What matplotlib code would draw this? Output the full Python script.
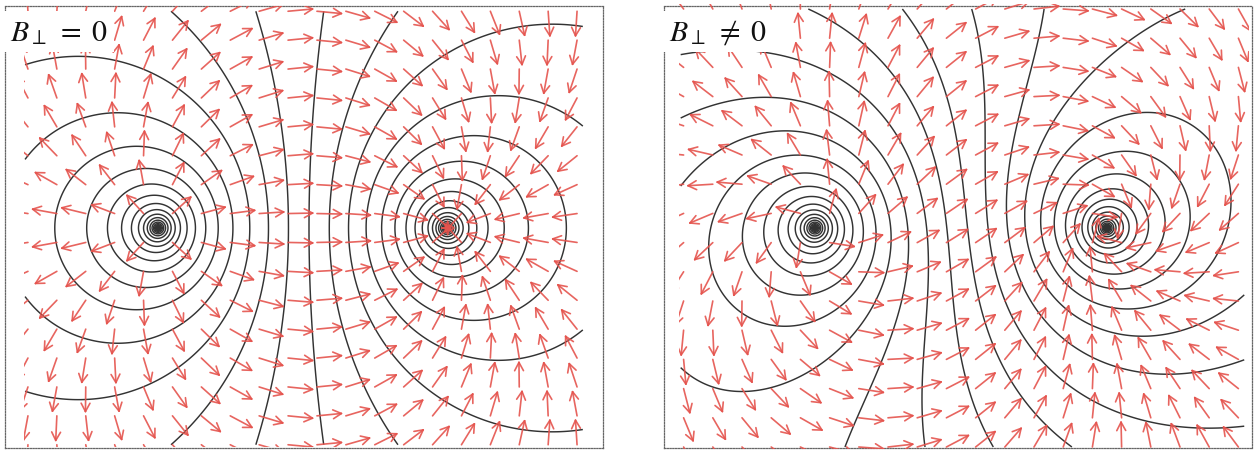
import numpy as np
import matplotlib.pyplot as plt
from matplotlib.collections import LineCollection

plt.rcParams['mathtext.fontset'] = 'stix'

# two panels: no field / perpendicular field
titles = [r'$B_{\perp}\;=\;0$', r'$B_{\perp}\;\neq\;0$']
hall_deg = [0.0, 33.0]      # rotation of the arrows
hall_tilt = [0.0, 0.22]     # transverse (Hall) term in the potential

# source and sink positions
source = (-1.0, 0.0)
sink = (1.0, 0.0)

# equipotential levels (ln r1 - ln r2), read from the spacing of the rings
level_step = 0.285
level_offset = 0.09
level_n = np.arange(-26, 27)

# arrow grid (tails)
grid_x = np.round(np.arange(-1.9, 1.95, 0.2), 3)
grid_y = np.round(np.arange(-1.5, 1.55, 0.2), 3)

# panel placement in pixels (left, right, top, bottom) and centre/scale
frames = [(5, 603, 7, 449), (664, 1252, 7, 449)]
centres = [(302.5, 229, 144.5), (961, 229, 146.0)]

W, H = 1258, 452
fig = plt.figure(figsize=(W / 100, H / 100), dpi=100)

def potential(X, Y, c):
    r1 = np.hypot(X - source[0], Y - source[1])
    r2 = np.hypot(X - sink[0], Y - sink[1])
    return np.log(r1) - np.log(r2) + c * Y

def field(X, Y, t):
    dx1, dy1 = X - source[0], Y - source[1]
    dx2, dy2 = X - sink[0], Y - sink[1]
    q1 = dx1 ** 2 + dy1 ** 2
    q2 = dx2 ** 2 + dy2 ** 2
    ex = dx1 / q1 - dx2 / q2
    ey = dy1 / q1 - dy2 / q2
    rx = ex * np.cos(t) - ey * np.sin(t)
    ry = ex * np.sin(t) + ey * np.cos(t)
    n = np.hypot(rx, ry)
    return rx / n, ry / n

for k in range(2):
    l, r, t, b = frames[k]
    cx, cy, s = centres[k]
    ax = fig.add_axes([l / W, (H - b) / H, (r - l) / W, (b - t) / H])
    ax.set_xlim((l - cx) / s, (r - cx) / s)
    ax.set_ylim((cy - b) / s, (cy - t) / s)
    ax.set_xticks([])
    ax.set_yticks([])
    for sp in ax.spines.values():
        sp.set_linestyle((0, (1, 1.2)))
        sp.set_linewidth(0.9)
        sp.set_color('#666666')

    # equipotentials
    xs = np.linspace(-1.92, 1.94, 1300)
    ys = np.linspace(-1.5, 1.5, 1000)
    X, Y = np.meshgrid(xs, ys)
    phi = potential(X, Y, hall_tilt[k])
    levels = level_offset + level_step * level_n
    ax.contour(X, Y, phi, levels=levels, colors='#333333', linewidths=1.05,
               linestyles='solid')

    # arrows
    GX, GY = np.meshgrid(grid_x, grid_y)
    ux, uy = field(GX, GY, np.radians(hall_deg[k]))
    L = 0.17
    hl = 0.065
    ha = np.radians(28)
    segs = []
    for x0, y0, u, v in zip(GX.ravel(), GY.ravel(), ux.ravel(), uy.ravel()):
        x1, y1 = x0 + L * u, y0 + L * v
        segs.append([(x0, y0), (x1, y1)])
        for sgn in (1, -1):
            c, sn = np.cos(sgn * ha), np.sin(sgn * ha)
            hx = u * c - v * sn
            hy = u * sn + v * c
            segs.append([(x1, y1), (x1 - hl * hx, y1 - hl * hy)])
    lc = LineCollection(segs, colors='#e5544e', linewidths=1.2, alpha=0.9,
                        capstyle='round', zorder=3)
    ax.add_collection(lc)
    clip = plt.Rectangle((-1.93, -1.515), 3.9, 3.05, transform=ax.transData)
    lc.set_clip_path(clip)

    ax.text(0.008, 0.975, titles[k], transform=ax.transAxes, ha='left', va='top',
            fontsize=21.5, color='#111111', zorder=5,
            bbox=dict(facecolor='white', edgecolor='none', pad=4.5))

fig.savefig('out.png', dpi=100)
